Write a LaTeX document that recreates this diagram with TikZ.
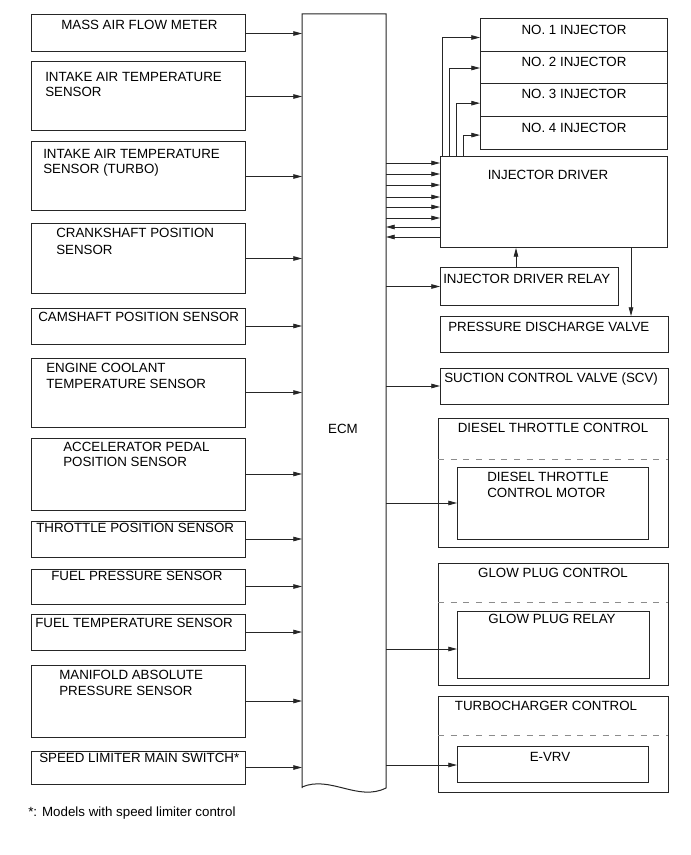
\documentclass[tikz,border=0pt]{standalone}
\usepackage{fontspec}
\setmainfont{Liberation Sans}
\usetikzlibrary{arrows.meta,fit,calc}
\begin{document}
\begin{tikzpicture}[x=0.75pt,y=-0.75pt,
  font=\fontsize{10}{12}\selectfont,
  box/.style={draw=black!85,line width=0.75pt,inner sep=0pt,outer sep=0pt},
  area/.style={inner sep=0pt,outer sep=0pt},
  lbl/.style={inner sep=0pt,anchor=west,text height=7.2pt,text depth=0pt},
  ctr/.style={inner sep=0pt,text height=7.2pt,text depth=0pt},
  arr/.style={draw=black!85,line width=0.6pt,-{Triangle[length=6.5pt,width=3.4pt]}},
  dashline/.style={draw=black!45,line width=0.6pt,dash pattern=on 4.5pt off 5pt}]
\fill[white] (0,0) rectangle (691,855);
\useasboundingbox (0,0) rectangle (691,855);

% ECM
\node[area,fit={(302,14) (386,788)}] (ecm) {};
\draw[line width=0.75pt,draw=black!85] (302,788) -- (302,14) -- (386,14) -- (386,788)
  .. controls (358,802) and (330,775) .. (302,787) -- cycle;
\node[ctr] (ecmt) at (343,429) {ECM};

% left sensors
\node[box,fit={(31,15) (245,52)}] (maf) {};
\node[lbl] (maft) at (61,25) {MASS AIR FLOW METER};
\node[box,fit={(31,62) (245,131)}] (iat) {};
\node[lbl] (iata) at (45,77) {INTAKE AIR TEMPERATURE};
\node[lbl] (iatb) at (45,92) {SENSOR};
\node[box,fit={(31,142) (245,211)}] (iatt) {};
\node[lbl] (iatta) at (43,154) {INTAKE AIR TEMPERATURE};
\node[lbl] (iattb) at (43,169) {SENSOR (TURBO)};
\node[box,fit={(31,224) (245,293)}] (ckp) {};
\node[lbl] (ckpa) at (56,233) {CRANKSHAFT POSITION};
\node[lbl] (ckpb) at (56,250) {SENSOR};
\node[box,fit={(31,308) (245,344)}] (cmp) {};
\node[lbl] (cmpt) at (38,317) {CAMSHAFT POSITION SENSOR};
\node[box,fit={(31,358) (245,427)}] (ect) {};
\node[lbl] (ecta) at (46,368) {ENGINE COOLANT};
\node[lbl] (ectb) at (46,384) {TEMPERATURE SENSOR};
\node[box,fit={(31,438) (245,510)}] (app) {};
\node[lbl] (appa) at (63,447) {ACCELERATOR PEDAL};
\node[lbl] (appb) at (63,462) {POSITION SENSOR};
\node[box,fit={(31,521) (245,557)}] (tps) {};
\node[lbl] (tpst) at (36,528) {THROTTLE POSITION SENSOR};
\node[box,fit={(31,569) (245,604)}] (fps) {};
\node[lbl] (fpst) at (51,576) {FUEL PRESSURE SENSOR};
\node[box,fit={(31,614) (245,650)}] (fts) {};
\node[lbl] (ftst) at (35,623) {FUEL TEMPERATURE SENSOR};
\node[box,fit={(31,665) (245,737)}] (map) {};
\node[lbl] (mapa) at (59,675) {MANIFOLD ABSOLUTE};
\node[lbl] (mapb) at (59,691) {PRESSURE SENSOR};
\node[box,fit={(31,751) (245,784)}] (slm) {};
\node[lbl] (slmt) at (39,758) {SPEED LIMITER MAIN SWITCH*};
\node[lbl] (note) at (28,812) {*: Models with speed limiter control};

\foreach \n in {maf,iat,iatt,ckp,cmp,ect,app,tps,fps,fts,map,slm}
  \draw[arr] (\n.east) -- (\n.east -| ecm.west);

% injectors
\node[box,fit={(480,19) (667,52)}] (inj1) {};
\node[ctr] (inj1t) at (574,30) {NO. 1 INJECTOR};
\node[box,fit={(480,52) (667,84)}] (inj2) {};
\node[ctr] (inj2t) at (574,62) {NO. 2 INJECTOR};
\node[box,fit={(480,84) (667,117)}] (inj3) {};
\node[ctr] (inj3t) at (574,94) {NO. 3 INJECTOR};
\node[box,fit={(480,117) (667,150)}] (inj4) {};
\node[ctr] (inj4t) at (574,128) {NO. 4 INJECTOR};

% injector driver
\node[box,fit={(440,157) (667,248)}] (drv) {};
\node[ctr] (drvt) at (548,175) {INJECTOR DRIVER};

\draw[arr] ([xshift=1.5pt]drv.north west) |- ([yshift=-1.5pt]inj1.west);
\draw[arr] ([xshift=6.75pt]drv.north west) |- (inj2.west);
\draw[arr] ([xshift=12pt]drv.north west) |- ([yshift=-2pt]inj3.west);
\draw[arr] ([xshift=17.25pt]drv.north west) |- ([yshift=-1.2pt]inj4.west);

\foreach \y in {163,174,185,197,207,218}
  \draw[arr] (ecm.east |- 0,\y) -- (drv.west |- 0,\y);
\foreach \y in {227,237}
  \draw[arr] (drv.west |- 0,\y) -- (ecm.east |- 0,\y);

% relay
\node[box,fit={(440,268) (618,305)}] (rly) {};
\node[lbl] (rlyt) at (443,279) {INJECTOR DRIVER RELAY};
\draw[arr] (ecm.east |- rly.west) -- (rly.west);
\draw[arr] ([xshift=-9.75pt]rly.north) -- ([xshift=-9.75pt]rly.north |- drv.south);

% pressure discharge valve
\node[box,fit={(440,316) (668,352)}] (pdv) {};
\node[lbl] (pdvt) at (448,327) {PRESSURE DISCHARGE VALVE};
\draw[arr] (drv.south -| 631,0) -- (pdv.north -| 631,0);

% SCV
\node[box,fit={(440,368) (668,404)}] (scv) {};
\node[lbl] (scvt) at (444,378) {SUCTION CONTROL VALVE (SCV)};
\draw[arr] (ecm.east |- scv.west) -- (scv.west);

% diesel throttle control
\node[box,fit={(438,418) (668,547)}] (dtc) {};
\node[ctr] (dtct) at (553,428) {DIESEL THROTTLE CONTROL};
\draw[dashline] (dtc.west |- 0,459) -- (dtc.east |- 0,459);
\node[box,fit={(457,467) (648,539)}] (dtm) {};
\node[lbl] (dtma) at (487,477) {DIESEL THROTTLE};
\node[lbl] (dtmb) at (487,493) {CONTROL MOTOR};
\draw[arr] (ecm.east |- dtm.west) -- (dtm.west);

% glow plug control
\node[box,fit={(438,563) (668,685)}] (gpc) {};
\node[ctr] (gpct) at (553,573) {GLOW PLUG CONTROL};
\draw[dashline] (gpc.west |- 0,602) -- (gpc.east |- 0,602);
\node[box,fit={(457,611) (649,678)}] (gpr) {};
\node[ctr] (gprt) at (552,619) {GLOW PLUG RELAY};
\draw[arr] (ecm.east |- 0,649) -- (gpr.west |- 0,649);

% turbocharger control
\node[box,fit={(438,696) (668,792)}] (tcc) {};
\node[ctr] (tcct) at (546,706) {TURBOCHARGER CONTROL};
\draw[dashline] (tcc.west |- 0,735) -- (tcc.east |- 0,735);
\node[box,fit={(457,746) (648,782)}] (evrv) {};
\node[ctr] (evrvt) at (550,757) {E-VRV};
\draw[arr] (ecm.east |- 0,765) -- (evrv.west |- 0,765);
\end{tikzpicture}
\end{document}
